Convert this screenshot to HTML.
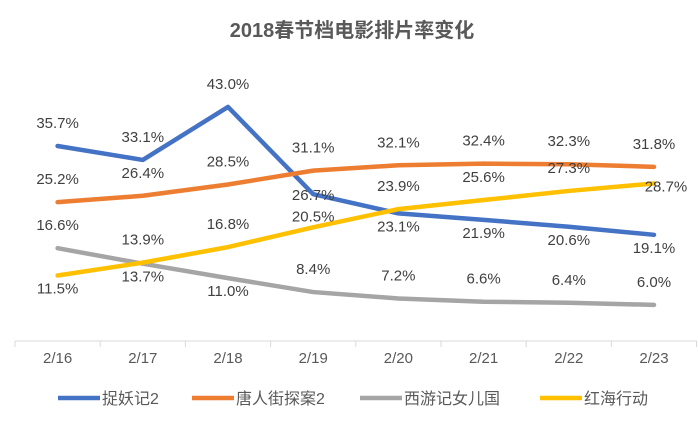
<!DOCTYPE html>
<html><head><meta charset="utf-8"><style>
body{margin:0;background:#fff;width:698px;height:425px;overflow:hidden}
svg text{font-family:"Liberation Sans","Noto Sans CJK SC",sans-serif}
</style></head><body>
<svg id="chart" width="698" height="425" viewBox="0 0 698 425" xmlns="http://www.w3.org/2000/svg">
<text x="352" y="37" text-anchor="middle" font-size="20" font-weight="bold" fill="#595959">2018春节档电影排片率变化</text>
<g id="axis"></g><g id="lines"></g><g id="labels"></g><g id="legend"></g>
</svg>
<script>
const categories=["2/16","2/17","2/18","2/19","2/20","2/21","2/22","2/23"];
const seriesNames=["捉妖记2","唐人街探案2","西游记女儿国","红海行动"];
const zhuoyaoji=[35.7,33.1,43.0,26.7,23.1,21.9,20.6,19.1];
const tangren=[25.2,26.4,28.5,31.1,32.1,32.4,32.3,31.8];
const xiyouji=[16.6,13.7,11.0,8.4,7.2,6.6,6.4,6.0];
const honghai=[11.5,13.9,16.8,20.5,23.9,25.6,27.3,28.7];
const colors=["#4472C4","#ED7D31","#A5A5A5","#FFC000"];
// label placement: 1 above, -1 below, 0 right, 2 on line, 3 slightly above
const place=[[1,1,1,2,-1,-1,-1,-1],[1,1,1,1,1,1,1,1],[1,-1,-1,1,1,1,1,1],[-1,1,1,3,1,1,1,0]];
const NS="http://www.w3.org/2000/svg";
const x0=15,step=85.2;
const xs=i=>x0+step*(i+0.5);
const ys=v=>337-v*5.35;
function mk(t,a,p){const e=document.createElementNS(NS,t);for(const k in a)e.setAttribute(k,a[k]);p.appendChild(e);return e;}
const ax=document.getElementById('axis');
const axl=mk('line',{x1:x0,x2:x0+step*8,y1:341,y2:341,stroke:'#D9D9D9','stroke-width':1},ax);


for(let i=0;i<=8;i++){const t=mk('line',{x1:x0+step*i,x2:x0+step*i,y1:341,y2:347,stroke:'#D9D9D9'},ax);

}
categories.forEach((c,i)=>{const t=mk('text',{x:xs(i),y:363,'text-anchor':'middle','font-size':15,fill:'#595959'},ax);t.textContent=c;

});
const data=[zhuoyaoji,tangren,xiyouji,honghai];
const L=document.getElementById('lines'),LB=document.getElementById('labels');
const dyMap={1:-18,'-1':18,0:8,2:6,3:-6};
data.forEach((s,k)=>{
 const p=mk('polyline',{points:s.map((v,i)=>xs(i)+','+ys(v)).join(' '),fill:'none',stroke:colors[k],'stroke-width':4.5,'stroke-linejoin':'round','stroke-linecap':'round'},L);
 
 
 s.forEach((v,i)=>{const pl=place[k][i];
  const t=mk('text',{x:xs(i)+(pl===0?12:0),y:ys(v)+dyMap[pl],'text-anchor':'middle','font-size':15,fill:'#404040'},LB);
  t.textContent=v.toFixed(1)+'%';
  
  });
});
const LG=document.getElementById('legend');
const lx=[58,192,360,540];
seriesNames.forEach((n,k)=>{const g=mk('g',{},LG);
 
 
 mk('line',{x1:lx[k],x2:lx[k]+42,y1:398,y2:398,stroke:colors[k],'stroke-width':4.5},g);
 const t=mk('text',{x:lx[k]+44,y:404,'font-size':16,fill:'#595959'},g);t.textContent=n;});
</script>
</body></html>
